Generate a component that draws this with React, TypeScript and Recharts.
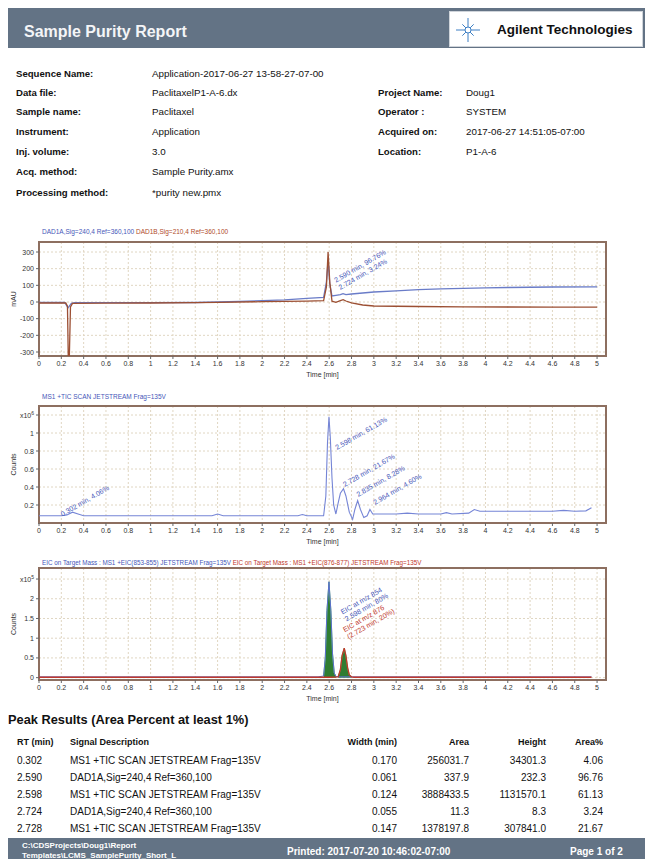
import React from 'react';
import {
  ComposedChart,
  Line,
  Area,
  XAxis,
  YAxis,
  CartesianGrid,
  ReferenceArea,
  ReferenceDot,
  Label,
} from 'recharts';

const FONT = '"Liberation Sans", Arial, sans-serif';
const BAR = '#637385';
const FRAME = '#8d6f60';
const GRID = '#e0d6c2';
const INK = '#333';

// shared time axis
const X_TICKS = [0, 0.2, 0.4, 0.6, 0.8, 1, 1.2, 1.4, 1.6, 1.8, 2, 2.2, 2.4, 2.6, 2.8, 3, 3.2, 3.4, 3.6, 3.8, 4, 4.2, 4.4, 4.6, 4.8, 5];
const X_MAX = 5.08;

// report header block
const infoLabels = ['Sequence Name:', 'Data file:', 'Sample name:', 'Instrument:', 'Inj. volume:', 'Acq. method:', 'Processing method:'];
const infoValues = ['Application-2017-06-27 13-58-27-07-00', 'PaclitaxelP1-A-6.dx', 'Paclitaxel', 'Application', '3.0', 'Sample Purity.amx', '*purity new.pmx'];
const infoRightLabels = ['Project Name:', 'Operator :', 'Acquired on:', 'Location:'];
const infoRightValues = ['Doug1', 'SYSTEM', '2017-06-27 14:51:05-07:00', 'P1-A-6'];
const infoRows = [74, 93, 112, 132, 152, 172, 193];

// DAD signals (mAU)
const dad1aTime = [0, 0.23, 0.26, 0.29, 0.32, 0.6, 1.0, 1.4, 1.6, 1.8, 2.0, 2.2, 2.4, 2.55, 2.575, 2.59, 2.605, 2.625, 2.66, 2.7, 2.724, 2.75, 2.8, 2.9, 3.0, 3.2, 3.4, 3.6, 3.8, 4.0, 4.2, 4.6, 5.0];
const dad1aValue = [-3, -3, -35, -8, -4, -4, -4, -3, 0, 4, 8, 13, 22, 28, 120, 250, 110, 36, 40, 44, 50, 44, 48, 54, 60, 67, 74, 79, 82, 85, 87, 90, 91];
const dad1bTime = [0, 0.24, 0.255, 0.262, 0.272, 0.282, 0.3, 0.6, 1.0, 1.4, 1.6, 2.0, 2.4, 2.55, 2.575, 2.59, 2.605, 2.625, 2.66, 2.7, 2.725, 2.75, 2.8, 2.9, 3.0, 3.4, 3.8, 4.2, 4.6, 5.0];
const dad1bValue = [-6, -6, -25, -322, -322, -30, -8, -7, -6, -4, -2, 2, 5, 8, 90, 300, 120, 5, -2, 8, 14, 6, -5, -18, -24, -27, -29, -30, -31, -31];
const DAD_TICKS = [-300, -200, -100, 0, 100, 200, 300];
const dadNoteTime = [2.66, 2.7];
const dadNoteValue = [115, 72];
const dadNoteText = ['2.590 min, 96.76%', '2.724 min, 3.24%'];

// TIC (counts x10^6)
const ticTime = [0, 0.2, 0.25, 0.3, 0.35, 0.4, 1.0, 1.55, 1.6, 1.65, 2.0, 2.32, 2.36, 2.4, 2.55, 2.57, 2.585, 2.598, 2.61, 2.625, 2.64, 2.66, 2.68, 2.7, 2.728, 2.75, 2.78, 2.81, 2.83, 2.855, 2.88, 2.91, 2.94, 2.965, 2.99, 3.05, 3.2, 3.3, 3.4, 3.6, 3.65, 3.7, 3.85, 3.9, 3.95, 4.2, 4.6, 4.7, 4.8, 4.9, 4.95];
const ticValue = [0.08, 0.08, 0.09, 0.12, 0.1, 0.08, 0.08, 0.08, 0.1, 0.08, 0.08, 0.08, 0.095, 0.08, 0.08, 0.3, 0.9, 1.18, 0.95, 0.5, 0.2, 0.1, 0.22, 0.33, 0.38, 0.3, 0.12, 0.04, 0.15, 0.25, 0.15, 0.06, 0.08, 0.15, 0.1, 0.1, 0.1, 0.11, 0.1, 0.1, 0.115, 0.1, 0.11, 0.15, 0.13, 0.13, 0.13, 0.14, 0.13, 0.135, 0.17];
const TIC_TICKS = [0.2, 0.4, 0.6, 0.8, 1, 1.2];
const ticNoteTime = [0.21, 2.67, 2.74, 2.86, 3.01];
const ticNoteValue = [0.07, 0.81, 0.4, 0.29, 0.2];
const ticNoteText = ['0.302 min, 4.06%', '2.598 min, 61.13%', '2.728 min, 21.67%', '2.835 min, 8.28%', '2.964 min, 4.60%'];

// EIC traces (counts x10^5)
const eic854Time = [0, 1.0, 2.0, 2.5, 2.55, 2.565, 2.58, 2.598, 2.615, 2.63, 2.645, 2.66, 2.7, 3.0, 4.0, 4.95];
const eic854Value = [0.02, 0.02, 0.02, 0.02, 0.04, 0.5, 1.7, 2.43, 1.7, 0.6, 0.12, 0.03, 0.02, 0.02, 0.02, 0.02];
const eic876Time = [0, 1.0, 2.0, 2.6, 2.68, 2.7, 2.715, 2.735, 2.75, 2.765, 2.78, 2.8, 2.82, 3.5, 4.95];
const eic876Value = [0.01, 0.01, 0.01, 0.01, 0.02, 0.2, 0.55, 0.75, 0.55, 0.25, 0.07, 0.02, 0.01, 0.01, 0.01];
const EIC_TICKS = [0, 0.5, 1, 1.5, 2, 2.5];

// peak table
const rtCol = ['0.302', '2.590', '2.598', '2.724', '2.728'];
const signalCol = ['MS1 +TIC SCAN JETSTREAM Frag=135V', 'DAD1A,Sig=240,4  Ref=360,100', 'MS1 +TIC SCAN JETSTREAM Frag=135V', 'DAD1A,Sig=240,4  Ref=360,100', 'MS1 +TIC SCAN JETSTREAM Frag=135V'];
const widthCol = ['0.170', '0.061', '0.124', '0.055', '0.147'];
const areaCol = ['256031.7', '337.9', '3888433.5', '11.3', '1378197.8'];
const heightCol = ['34301.3', '232.3', '1131570.1', '8.3', '307841.0'];
const pctCol = ['4.06', '96.76', '61.13', '3.24', '21.67'];
const tableRows = [761, 778, 795, 812, 829];

const pts = (t: number[], v: number[]) => t.map((x, i) => ({ t: x, v: v[i] }));
const within = (t: number[], v: number[], a: number, b: number) => pts(t, v).filter(p => p.t >= a && p.t <= b);

function T({ x, y, size = 9, bold = false, color = '#111', right = false, children }: any) {
  const style: React.CSSProperties = {
    position: 'absolute',
    top: y - size / 2 - 1,
    fontSize: size,
    lineHeight: `${size + 2}px`,
    fontWeight: bold ? 700 : 400,
    color,
    whiteSpace: 'nowrap',
  };
  if (right) {
    style.left = x - 300;
    style.width = 300;
    style.textAlign = 'right';
  } else {
    style.left = x;
  }
  return <div style={style}>{children}</div>;
}

const AxisName = (p: any) => {
  const vb = p.viewBox || {};
  const cx = (vb.x ?? 0) + 13;
  const cy = (vb.y ?? 0) + (vb.height ?? 0) / 2;
  return (
    <text x={cx} y={cy} transform={`rotate(-90 ${cx} ${cy})`} textAnchor="middle" dominantBaseline="central" fontSize={7} fill={INK}>
      {p.value}
    </text>
  );
};

const yTick = (expTick?: number, exp?: string) => (p: any) => {
  const { x, y, payload } = p;
  if (expTick !== undefined && payload.value === expTick) {
    return (
      <text x={x} y={y} dy={2.5} textAnchor="end" fontSize={7} fill={INK}>
        x10<tspan fontSize={5} dy={-3}>{exp}</tspan>
      </text>
    );
  }
  return (
    <text x={x} y={y} dy={2.5} textAnchor="end" fontSize={7} fill={INK}>
      {payload.value}
    </text>
  );
};

const note = (lines: string[], color: string, angle = -30) => (p: any) => (
  <text x={p.cx} y={p.cy} transform={`rotate(${angle} ${p.cx} ${p.cy})`} fill={color} fontSize={7}>
    {lines.map((l, i) => (
      <tspan key={i} x={p.cx} dy={i === 0 ? 0 : 8}>{l}</tspan>
    ))}
  </text>
);

function Chromatogram({ top, plotHeight, yDomain, yTicks, yName, tick, children }: any) {
  const mTop = 16;
  return (
    <div style={{ position: 'absolute', left: 0, top }}>
      <ComposedChart width={640} height={mTop + plotHeight + 28} margin={{ top: mTop, right: 34, bottom: 0, left: 0 }}>
        <CartesianGrid stroke={GRID} strokeDasharray="2 2" />
        <XAxis
          type="number"
          dataKey="t"
          domain={[0, X_MAX]}
          ticks={X_TICKS}
          interval={0}
          allowDataOverflow
          tick={{ fontSize: 7, fill: INK }}
          tickSize={3}
          axisLine={false}
          tickLine={{ stroke: '#666' }}
          height={28}
        >
          <Label value="Time [min]" position="insideBottom" offset={7} fontSize={7} fill={INK} />
        </XAxis>
        <YAxis
          type="number"
          domain={yDomain}
          ticks={yTicks}
          interval={0}
          allowDataOverflow
          width={39}
          tick={tick}
          tickSize={3}
          axisLine={false}
          tickLine={{ stroke: '#666' }}
          label={{ value: yName, content: AxisName }}
        />
        <ReferenceArea x1={0} x2={X_MAX} y1={yDomain[0]} y2={yDomain[1]} fill="none" stroke={FRAME} strokeWidth={2} ifOverflow="visible" />
        {children}
      </ComposedChart>
    </div>
  );
}

function Spark() {
  const rays = [0, 45, 90, 135, 180, 225, 270, 315];
  return (
    <svg width={26} height={26} style={{ position: 'absolute', left: 455, top: 17 }}>
      {rays.map(a => {
        const r = (a * Math.PI) / 180;
        const len = a % 90 === 0 ? 12 : 8;
        return <line key={a} x1={13 + 3 * Math.cos(r)} y1={13 + 3 * Math.sin(r)} x2={13 + len * Math.cos(r)} y2={13 + len * Math.sin(r)} stroke="#3d7fc4" strokeWidth={1} />;
      })}
      <circle cx={13} cy={13} r={3} fill="none" stroke="#3d7fc4" strokeWidth={1} />
    </svg>
  );
}

export default function App() {
  return (
    <div style={{ position: 'relative', width: 655, height: 867, margin: -8, background: '#fff', fontFamily: FONT, overflow: 'hidden' }}>
      {/* header */}
      <div style={{ position: 'absolute', left: 5, top: 8, width: 640, height: 40, background: BAR }} />
      <T x={24} y={32} size={16} bold color="#f4f5f7">Sample Purity Report</T>
      <div style={{ position: 'absolute', left: 449, top: 11, width: 192, height: 34, background: '#fff', border: '1px solid #cfd4da' }} />
      <Spark />
      <T x={497} y={30} size={13.5} bold color="#111">Agilent Technologies</T>

      {/* sample info */}
      {infoLabels.map((l, i) => (
        <T key={l} x={16} y={infoRows[i]} size={9.6} bold>{l}</T>
      ))}
      {infoValues.map((v, i) => (
        <T key={v} x={152} y={infoRows[i]} size={9.8}>{v}</T>
      ))}
      {infoRightLabels.map((l, i) => (
        <T key={l} x={378} y={infoRows[i + 1]} size={9.6} bold>{l}</T>
      ))}
      {infoRightValues.map((v, i) => (
        <T key={v} x={466} y={infoRows[i + 1]} size={9.8}>{v}</T>
      ))}

      {/* DAD chart */}
      <T x={42} y={232} size={6.5}>
        <span style={{ color: '#4656b8' }}>DAD1A,Sig=240,4  Ref=360,100 </span>
        <span style={{ color: '#b04a2a' }}>DAD1B,Sig=210,4  Ref=360,100</span>
      </T>
      <Chromatogram top={226} plotHeight={114} yDomain={[-324, 360]} yTicks={DAD_TICKS} yName="mAU" tick={yTick()}>
        <Line data={pts(dad1aTime, dad1aValue)} dataKey="v" type="linear" stroke="#6a7cc8" strokeWidth={1.3} dot={false} isAnimationActive={false} />
        <Line data={pts(dad1bTime, dad1bValue)} dataKey="v" type="linear" stroke="#9c4f33" strokeWidth={1.3} dot={false} isAnimationActive={false} />
        {dadNoteText.map((s, i) => (
          <ReferenceDot key={s} x={dadNoteTime[i]} y={dadNoteValue[i]} r={0} shape={note([s], '#4656b8')} />
        ))}
      </Chromatogram>

      {/* TIC chart */}
      <T x={42} y={397} size={6.5} color="#4656b8">MS1 +TIC SCAN JETSTREAM Frag=135V</T>
      <Chromatogram top={390} plotHeight={117} yDomain={[0, 1.3]} yTicks={TIC_TICKS} yName="Counts" tick={yTick(1.2, '6')}>
        <Line data={pts(ticTime, ticValue)} dataKey="v" type="linear" stroke="#7585d6" strokeWidth={1.1} dot={false} isAnimationActive={false} />
        {ticNoteText.map((s, i) => (
          <ReferenceDot key={s} x={ticNoteTime[i]} y={ticNoteValue[i]} r={0} shape={note([s], '#4656b8')} />
        ))}
      </Chromatogram>

      {/* EIC chart */}
      <T x={42} y={563} size={6.3}>
        <span style={{ color: '#4656b8' }}>EIC on Target Mass : MS1 +EIC(853-855) JETSTREAM Frag=135V </span>
        <span style={{ color: '#c0392b' }}>EIC on Target Mass : MS1 +EIC(876-877) JETSTREAM Frag=135V</span>
      </T>
      <Chromatogram top={552} plotHeight={112} yDomain={[-0.06, 2.78]} yTicks={EIC_TICKS} yName="Counts" tick={yTick(2.5, '5')}>
        <Area data={within(eic854Time, eic854Value, 2.55, 2.66)} dataKey="v" type="linear" fill="#2f7d32" fillOpacity={1} stroke="#5fb85f" strokeWidth={1} isAnimationActive={false} />
        <Area data={within(eic876Time, eic876Value, 2.68, 2.8)} dataKey="v" type="linear" fill="#2f7d32" fillOpacity={1} stroke="#5fb85f" strokeWidth={1} isAnimationActive={false} />
        <Line data={pts(eic854Time, eic854Value)} dataKey="v" type="linear" stroke="#5a6fd0" strokeWidth={1} dot={false} isAnimationActive={false} />
        <Line data={pts(eic876Time, eic876Value)} dataKey="v" type="linear" stroke="#c0392b" strokeWidth={1.3} dot={false} isAnimationActive={false} />
        <ReferenceDot x={2.72} y={1.6} r={0} shape={note(['EIC at m/z 854', '2.598 min, 80%'], '#4656b8')} />
        <ReferenceDot x={2.74} y={1.15} r={0} shape={note(['EIC at m/z 876', '(2.723 min, 20%)'], '#c0392b')} />
      </Chromatogram>

      {/* peak table */}
      <T x={8} y={720} size={12.8} bold>Peak Results (Area Percent at least 1%)</T>
      <T x={17} y={742} size={9} bold>RT (min)</T>
      <T x={70} y={742} size={9} bold>Signal Description</T>
      <T x={397} y={742} size={9} bold right>Width (min)</T>
      <T x={469} y={742} size={9} bold right>Area</T>
      <T x={546} y={742} size={9} bold right>Height</T>
      <T x={603} y={742} size={9} bold right>Area%</T>
      {tableRows.map((y, i) => (
        <React.Fragment key={i}>
          <T x={17} y={y} size={10}>{rtCol[i]}</T>
          <T x={70} y={y} size={10}>{signalCol[i]}</T>
          <T x={397} y={y} size={10} right>{widthCol[i]}</T>
          <T x={469} y={y} size={10} right>{areaCol[i]}</T>
          <T x={546} y={y} size={10} right>{heightCol[i]}</T>
          <T x={603} y={y} size={10} right>{pctCol[i]}</T>
        </React.Fragment>
      ))}

      {/* footer */}
      <div style={{ position: 'absolute', left: 5, top: 838, width: 640, height: 29, background: BAR }} />
      <T x={22} y={846} size={8} bold color="#fff">C:\CDSProjects\Doug1\Report</T>
      <T x={22} y={856} size={8} bold color="#fff">Templates\LCMS_SamplePurity_Short_L</T>
      <T x={287} y={852} size={10} bold color="#fff">Printed:  2017-07-20 10:46:02-07:00</T>
      <T x={570} y={852} size={10} bold color="#fff">Page 1 of 2</T>
    </div>
  );
}
